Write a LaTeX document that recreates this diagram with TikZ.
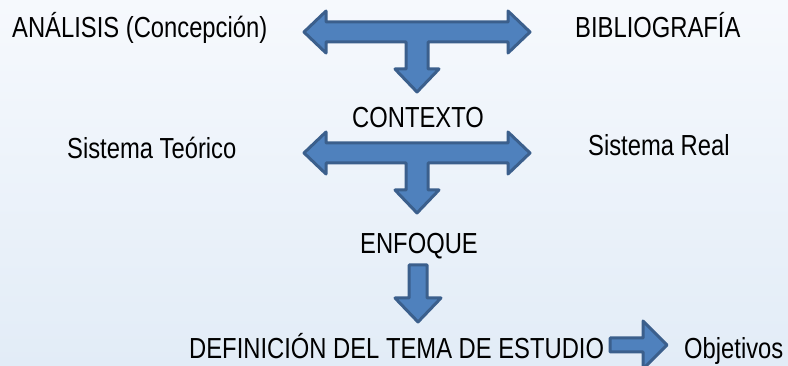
\documentclass[tikz,border=0pt]{standalone}
\usepackage{fontspec}
\setmainfont[FakeStretch=0.82]{Liberation Sans}
\definecolor{flecha}{HTML}{4F81BD}
\definecolor{borde}{HTML}{3B5F8C}
\definecolor{fondoa}{HTML}{F6F9FD}
\definecolor{fondob}{HTML}{E2ECF7}
\tikzset{
	texto/.style={inner sep=0pt,anchor=base west,font=\fontsize{29}{33}\selectfont},
	bloque/.style={fill=flecha,draw=borde,line width=3pt,line join=round}
}
\newcommand{\flechaT}[1]{%
	\draw[bloque,shift={(#1)}] (-113,0) -- (-91,-21) -- (-91,-10) -- (91,-10) -- (91,-21)
		-- (113,0) -- (91,21) -- (91,10) -- (11,10) -- (11,37) -- (22,37) -- (0,60)
		-- (-22,37) -- (-11,37) -- (-11,10) -- (-91,10) -- (-91,21) -- cycle;}

\begin{document}
\begin{tikzpicture}[x=1pt,y=-1pt]
		\useasboundingbox (0,0) rectangle (788,366);
		\clip (0,0) rectangle (788,366);
		\shade[top color=fondoa,bottom color=fondob] (0,0) rectangle (788,366);
		\node[texto] (analisis) at (12,38) {ANÁLISIS (Concepción)};
		\node[texto] (biblio) at (575,38) {BIBLIOGRAFÍA};
		\node[texto] (contexto) at (352,128) {CONTEXTO};
		\node[texto] (teorico) at (67,159) {Sistema Teórico};
		\node[texto] (real) at (588,156) {Sistema Real};
		\node[texto] (enfoque) at (360,254) {ENFOQUE};
		\node[texto] (definicion) at (189,359) {DEFINICIÓN DEL TEMA DE ESTUDIO};
		\node[texto] (objetivos) at (684,359) {Objetivos};
		\coordinate (t1) at (417,32);
		\coordinate (t2) at (417,153);
		\coordinate (abajo) at (418,265);
		\coordinate (derecha) at (610,345);
		\flechaT{t1}
		\flechaT{t2}
		\draw[bloque,shift={(abajo)}] (-9,0) -- (9,0) -- (9,33) -- (23,33) -- (0,57) -- (-23,33) -- (-9,33) -- cycle;
		\draw[bloque,shift={(derecha)}] (0,-7) -- (33,-7) -- (33,-24) -- (57,0) -- (33,24) -- (33,7) -- (0,7) -- cycle;
		\end{tikzpicture}
\end{document}
